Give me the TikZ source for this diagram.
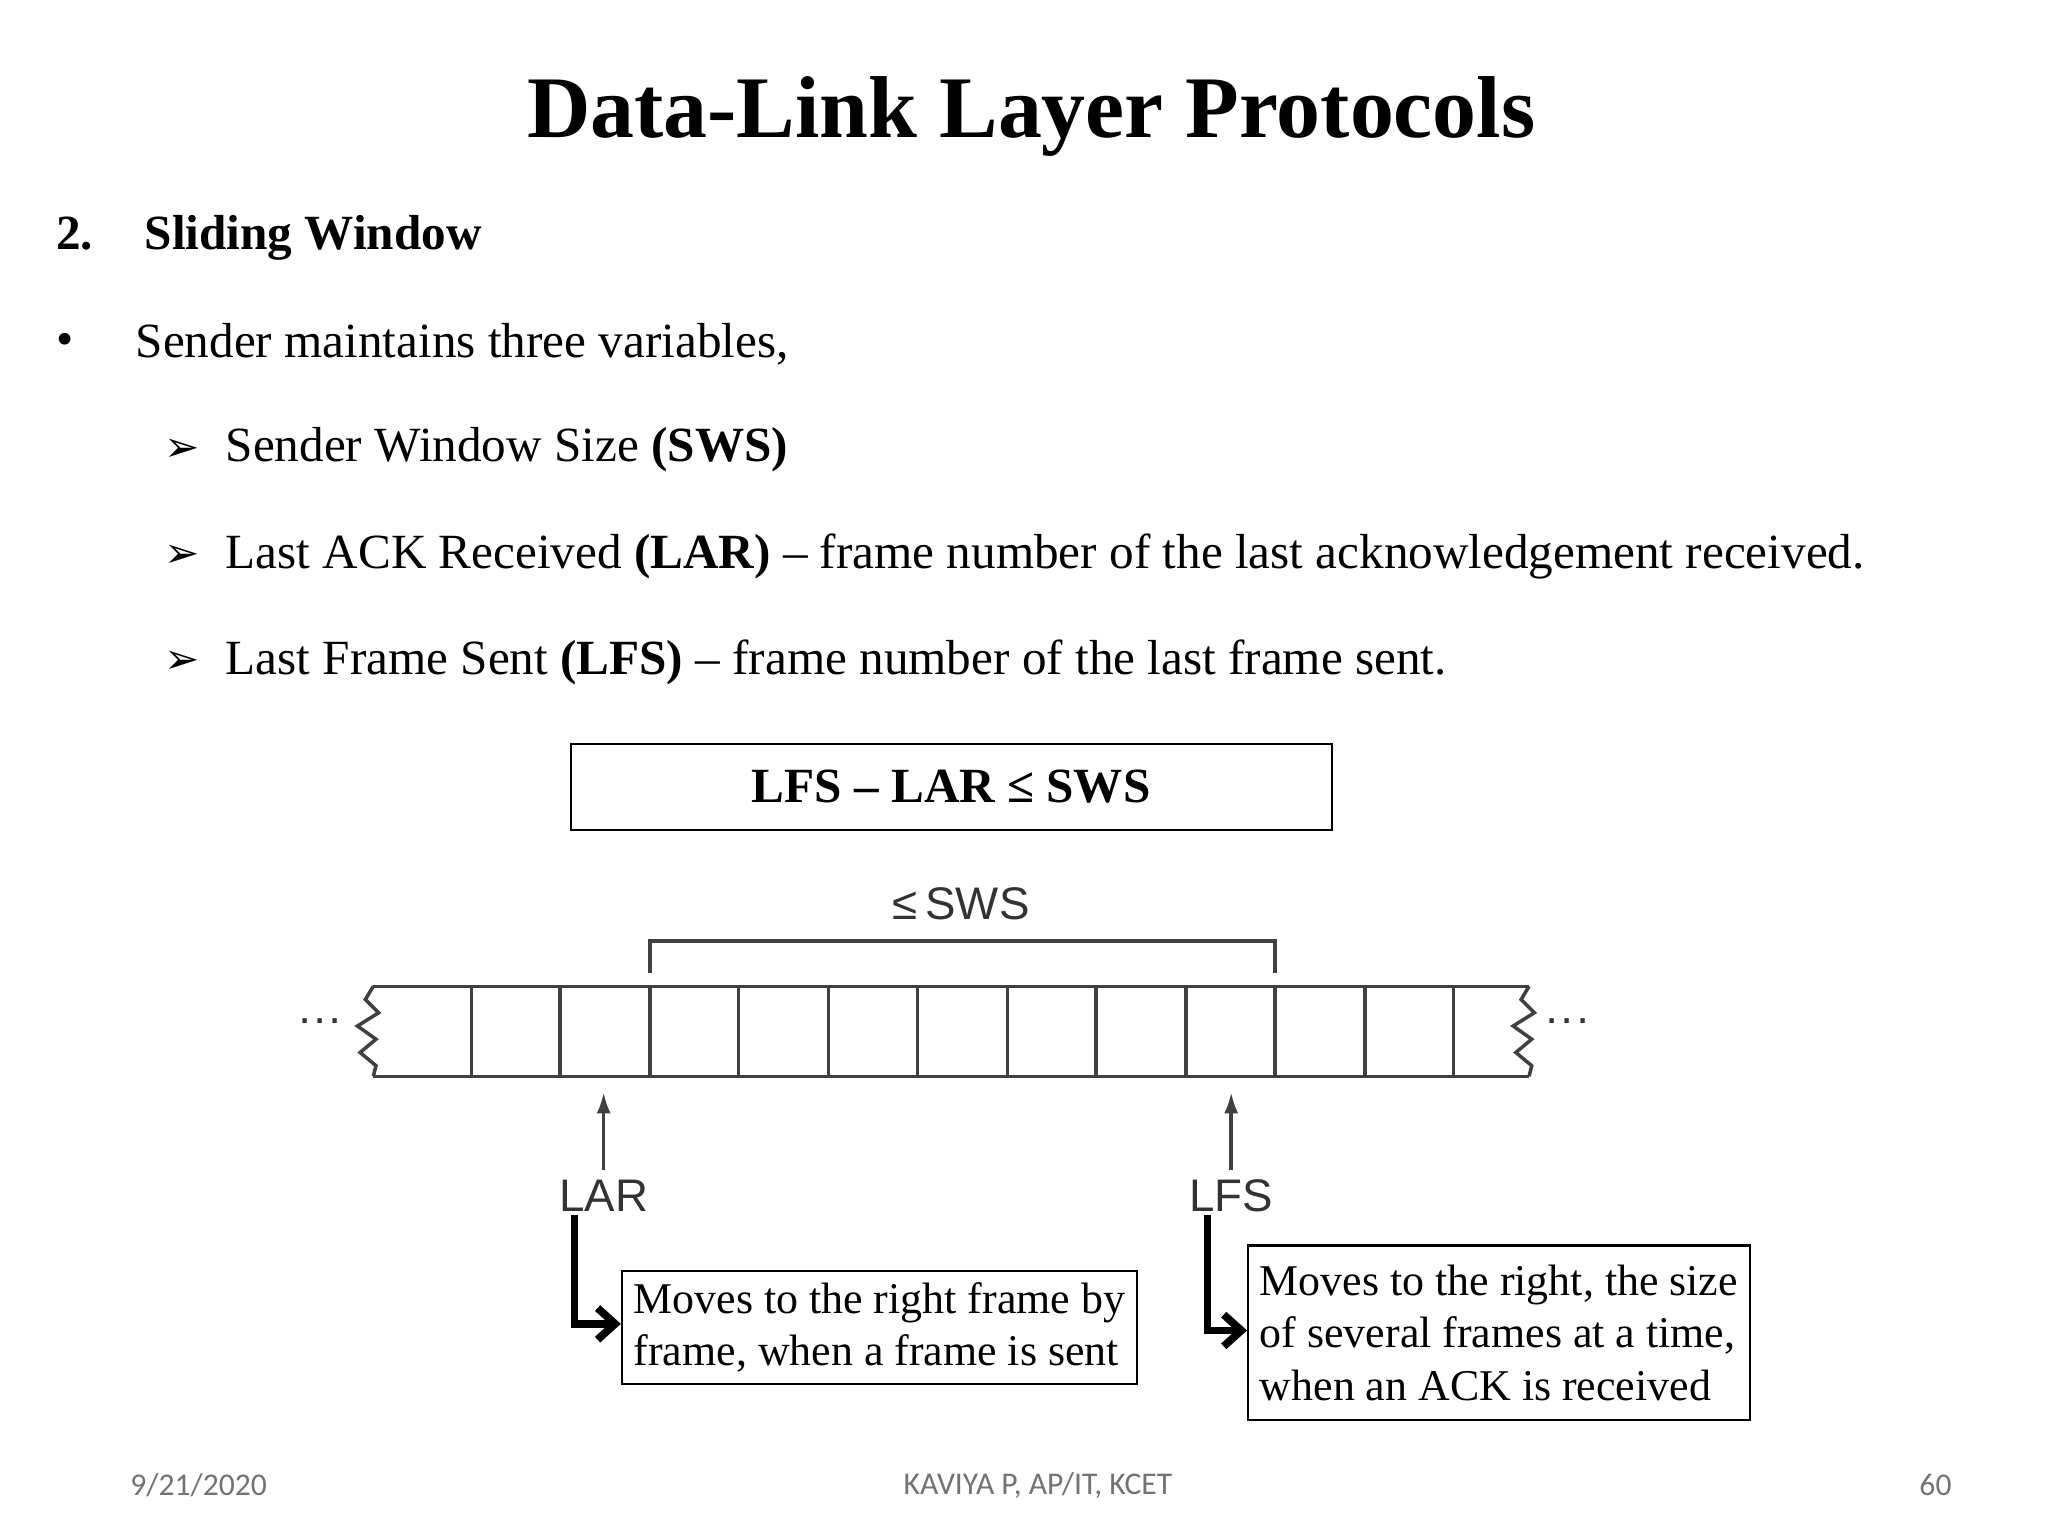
\documentclass[tikz,border=0pt]{standalone}
\usepackage{fontspec}
\setmainfont{Liberation Serif}
\newfontfamily\sans{Liberation Sans}
\newfontfamily\foot{Carlito}
\newfontfamily\sym{DejaVu Sans}
\usetikzlibrary{arrows.meta}
\begin{document}
\begin{tikzpicture}[x=0.01324cm,y=-0.01324cm,
  txt/.style={anchor=west,inner sep=0,font=\fontsize{14}{16}\selectfont},
  bx/.style={draw,line width=0.6pt},
  fr/.style={line width=1pt,draw=black!75},
  lbl/.style={font=\sans\fontsize{13}{15}\selectfont,text=black!80,inner sep=1pt},
  ft/.style={font=\foot\fontsize{9}{11}\selectfont,text=black!55}]
\useasboundingbox[fill=white] (0,0) rectangle (1547,1160);
\node[font=\bfseries\fontsize{25}{28}\selectfont] (title) at (779,88) {Data-Link Layer Protocols};
\node[txt,font=\bfseries\fontsize{14}{16}\selectfont] (h) at (42,180) {2.\hspace{1.05em}Sliding Window};
\node[txt] (b0) at (42,260) {•};
\node[txt] (t0) at (102,260) {Sender maintains three variables,};
\foreach \y/\t [count=\i] in {340/{Sender Window Size \textbf{(SWS)}},420/{Last ACK Received \textbf{(LAR)} – frame number of the last acknowledgement received.},500/{Last Frame Sent \textbf{(LFS)} – frame number of the last frame sent.}}{
 \node[txt,font=\sym\fontsize{12}{14}\selectfont] (a\i) at (124,\y) {➢};
 \node[txt] (t\i) at (170,\y) {\t};}
\node[bx,minimum width=575*0.01324cm,minimum height=65*0.01324cm,font=\bfseries\fontsize{14}{16}\selectfont] (eq) at (718.5,594.5) {LFS – LAR ≤ SWS};
% frames
\draw[fr] (282,745) -- (1155,745) (282,813) -- (1155,813);
\foreach \x in {356,423,491,558,626,693,761,828,896,963,1031,1098} \draw[fr] (\x,745) -- (\x,813);
\draw[fr] (282,745) -- (276,755) -- (286,765) -- (270,775) -- (284,785) -- (272,795) -- (284,805) -- (282,813);
\draw[fr] (1155,745) -- (1149,755) -- (1159,765) -- (1143,775) -- (1157,785) -- (1145,795) -- (1157,805) -- (1155,813);
\node[lbl] (dl) at (242,775) {···};
\node[lbl] (dr) at (1184,775) {···};
\draw[fr,line width=1.2pt] (491,735) -- (491,711) -- (963,711) -- (963,735);
\node[lbl] (sws) at (726,683) {≤\,SWS};
\node[lbl] (lar) at (456,903) {LAR};
\node[lbl] (lfs) at (930,903) {LFS};
\coordinate (lart) at (456,825); \coordinate (lfst) at (930,825);
\draw[fr,-{Latex[length=6pt,width=4pt]}] (lar.north) ++(0,-4) -- (lart);
\draw[fr,-{Latex[length=6pt,width=4pt]}] (lfs.north) ++(0,-4) -- (lfst);
\node[bx,anchor=north west,minimum width=384*0.01324cm,minimum height=82*0.01324cm,align=left,font=\fontsize{12.5}{15}\selectfont] (m1) at (469,959) {Moves to the right frame by\\frame, when a frame is sent};
\node[bx,anchor=north west,minimum width=377*0.01324cm,minimum height=132*0.01324cm,align=left,font=\fontsize{12.5}{15}\selectfont] (m2) at (942,940) {Moves to the right, the size\\of several frames at a time,\\when an ACK is received};
\draw[line width=2.2pt,-{Straight Barb[length=5pt,width=9pt]}] (434,918) |- (m1.west |- 0,1000);
\draw[line width=2.2pt,-{Straight Barb[length=5pt,width=9pt]}] (912,918) |- (m2.west |- 0,1005);
\node[ft] (f1) at (150,1122) {9/21/2020};
\node[ft] (f2) at (784,1122) {KAVIYA P, AP/IT, KCET};
\node[ft] (f3) at (1462,1122) {60};
\end{tikzpicture}
\end{document}
